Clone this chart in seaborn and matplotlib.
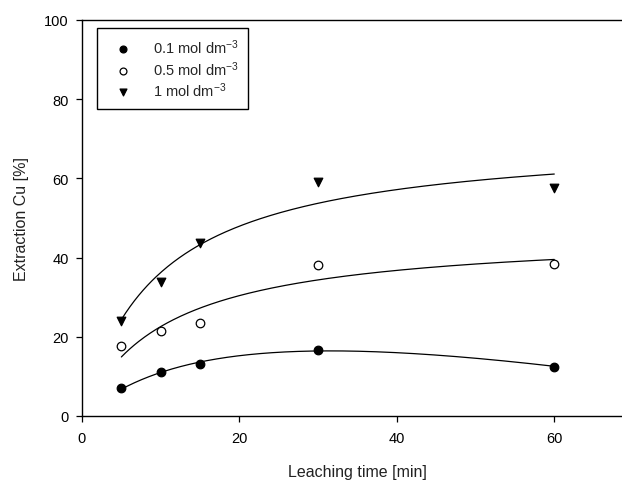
import numpy as np
import pandas as pd
import matplotlib
matplotlib.use("Agg")
import matplotlib.pyplot as plt
import seaborn as sns

# Leaching experiments: copper extraction vs. time for three acid concentrations
time_min = [5, 10, 15, 30, 60]
conc_labels = ["0.1 mol dm$^{-3}$", "0.5 mol dm$^{-3}$", "1 mol dm$^{-3}$"]
extraction_01 = [7.1, 11.1, 13.1, 16.7, 12.5]
extraction_05 = [17.6, 21.5, 23.5, 38.2, 38.4]
extraction_10 = [24.1, 33.8, 43.7, 59.0, 57.7]
x_ticks = [0, 20, 40, 60]
y_ticks = [0, 20, 40, 60, 80, 100]

sns.set_style("ticks")
plt.rcParams["font.family"] = ["Liberation Sans", "DejaVu Sans"]
plt.rcParams["mathtext.fontset"] = "custom"
plt.rcParams["mathtext.rm"] = "Liberation Sans"
plt.rcParams["mathtext.it"] = "Liberation Sans:italic"

df = pd.DataFrame({
    "t": time_min * 3,
    "E": extraction_01 + extraction_05 + extraction_10,
    "c": [conc_labels[0]] * 5 + [conc_labels[1]] * 5 + [conc_labels[2]] * 5,
})


def fit_hyperbola(x, y, linear_term=False):
    """Least-squares fit of y = a*x/(b+x) (+ c*x), grid search over b."""
    x = np.asarray(x, float)
    y = np.asarray(y, float)
    best = None
    for b in np.linspace(0.1, 200, 4000):
        cols = [x / (b + x)]
        if linear_term:
            cols.append(x)
        A = np.column_stack(cols)
        coef, *_ = np.linalg.lstsq(A, y, rcond=None)
        sse = np.sum((A @ coef - y) ** 2)
        if best is None or sse < best[0]:
            best = (sse, b, coef)
    _, b, coef = best

    def f(xx):
        xx = np.asarray(xx, float)
        out = coef[0] * xx / (b + xx)
        if linear_term:
            out = out + coef[1] * xx
        return out
    return f


xs = np.linspace(min(time_min), max(time_min), 300)
fits = [
    fit_hyperbola(time_min, extraction_01, linear_term=True),
    fit_hyperbola(time_min, extraction_05),
    fit_hyperbola(time_min, extraction_10),
]
curves = pd.DataFrame({
    "t": np.tile(xs, 3),
    "E": np.concatenate([f(xs) for f in fits]),
    "c": np.repeat(conc_labels, len(xs)),
})

fig = plt.figure(figsize=(6.22, 4.81), dpi=100)
ax = fig.add_axes([82 / 622, 1 - 417 / 481, (633 - 82) / 622, (417 - 21) / 481])

sns.lineplot(data=curves, x="t", y="E", units="c", estimator=None,
             color="black", lw=0.9, ax=ax, legend=False)

markers = {conc_labels[0]: "o", conc_labels[1]: "o", conc_labels[2]: "v"}
for lab, face in zip(conc_labels, ["black", "white", "black"]):
    sub = df[df["c"] == lab]
    sns.scatterplot(data=sub, x="t", y="E", marker=markers[lab], s=38,
                    facecolor=face, edgecolor="black", linewidth=0.9,
                    ax=ax, label=lab, zorder=3)

ax.set_xlim(0, 70)
ax.set_ylim(0, 100)
ax.set_xticks(x_ticks)
ax.set_yticks(y_ticks)
ax.tick_params(direction="out", length=4.5, width=0.9, labelsize=10.5, colors="black")
ax.tick_params(axis="x", pad=6)
ax.tick_params(axis="y", pad=5)
for s in ax.spines.values():
    s.set_linewidth(1.0)
    s.set_color("black")

ax.set_xlabel("Leaching time [min]", fontsize=11.5, labelpad=14, color="#222222")
ax.set_ylabel("Extraction Cu [%]", fontsize=11.5, labelpad=11, color="#222222")

leg = ax.legend(loc="upper left", bbox_to_anchor=(97 / 622, 1 - 29 / 481),
                bbox_transform=fig.transFigure, borderaxespad=0, fontsize=10.5,
                frameon=True, fancybox=False, edgecolor="black", framealpha=1,
                handletextpad=1.0, borderpad=0.65, labelspacing=0.2,
                markerscale=0.8, handlelength=2.2)
leg.get_frame().set_linewidth(1.0)

fig.savefig("out.png", dpi=100)
